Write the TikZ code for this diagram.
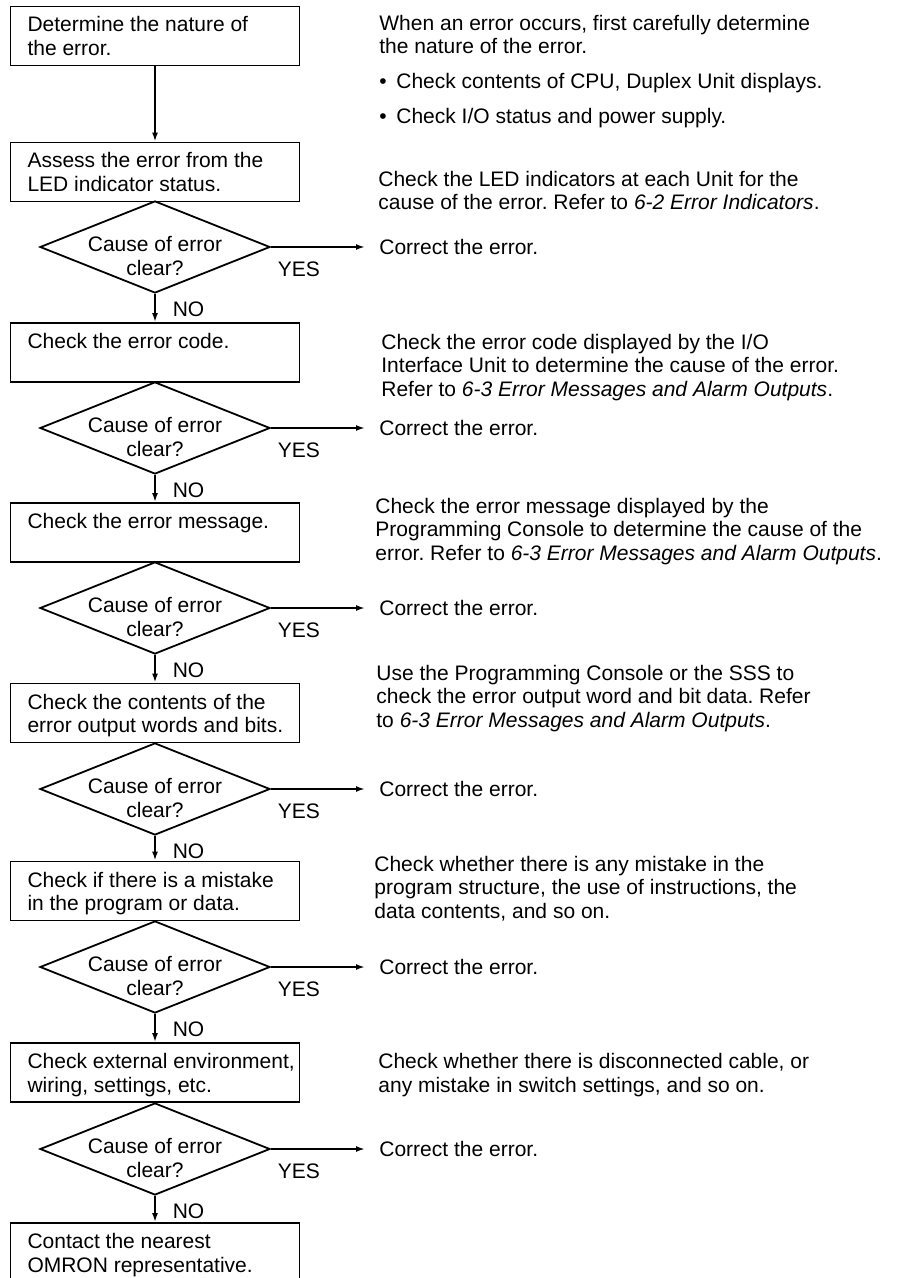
\documentclass[tikz,border=0pt]{standalone}
\usepackage{fontspec}
\setmainfont{Liberation Sans}
\usetikzlibrary{shapes.geometric, arrows.meta}
\frenchspacing

\begin{document}
\begin{tikzpicture}[x=0.5pt, y=-0.5pt,
        font=\fontsize{10.5pt}{11.75pt}\selectfont,
        proc/.style={rectangle, draw, line width=0.9pt, minimum width=144.5pt, minimum height=29.5pt, text width=127.5pt, inner xsep=8.5pt, inner ysep=0pt, text height=9pt, text depth=13pt, align=flush left},
        dec/.style={diamond, draw, line width=0.9pt, minimum width=115pt, minimum height=46pt, inner sep=0pt},
        dtext/.style={align=center, yshift=-4.5pt},
        note/.style={anchor=base west, inner sep=0pt, align=left},
        fix/.style={anchor=west, inner xsep=7pt},
        lbl/.style={inner sep=0pt},
        flow/.style={line width=0.9pt, -{Latex[length=4.5pt, width=3pt]}}]

        \useasboundingbox (0,0) rectangle (899,1278);

        % Flow: boxes and checks
        \node[proc] (b1) at (155,36) {Determine the nature of\\the error.};
        \node[proc] (b2) at (155,172) {Assess the error from the\\LED indicator status.};
        \node[dec, label={[dtext]center:Cause of error\\clear?}] (d1) at (155,247) {};
        \node[proc] (b3) at (155,352.5) {Check the error code.};
        \node[dec, label={[dtext]center:Cause of error\\clear?}] (d2) at (155,428) {};
        \node[proc] (b4) at (155,532.5) {Check the error message.};
        \node[dec, label={[dtext]center:Cause of error\\clear?}] (d3) at (155,608) {};
        \node[proc] (b5) at (155,713) {Check the contents of the\\\mbox{error output words and bits.}};
        \node[dec, label={[dtext]center:Cause of error\\clear?}] (d4) at (155,789) {};
        \node[proc] (b6) at (155,891) {Check if there is a mistake\\in the program or data.};
        \node[dec, label={[dtext]center:Cause of error\\clear?}] (d5) at (155,967) {};
        \node[proc] (b7) at (155,1072.5) {\mbox{Check external environment,}\\wiring, settings, etc.};
        \node[dec, label={[dtext]center:Cause of error\\clear?}] (d6) at (155,1149) {};
        \node[proc] (b8) at (155,1252.5) {Contact the nearest\\OMRON representative.};

        % Correct the error
        \node[fix] (c1) at (365,247) {Correct the error.};
        \node[fix] (c2) at (365,428) {Correct the error.};
        \node[fix] (c3) at (365,608) {Correct the error.};
        \node[fix] (c4) at (365,789) {Correct the error.};
        \node[fix] (c5) at (365,967) {Correct the error.};
        \node[fix] (c6) at (365,1149) {Correct the error.};

        % Notes (placed at the baseline of their last line)
        \node[note] (t1) at (379,124) {When an error occurs, first carefully determine\\the nature of the error.\\[5.75pt]\makebox[8.5pt][l]{\textbullet}Check contents of CPU, Duplex Unit displays.\\[5.75pt]\makebox[8.5pt][l]{\textbullet}Check I/O status and power supply.};
        \node[note] (t2) at (378,210) {Check the LED indicators at each Unit for the\\cause of the error. Refer to \textit{6-2 Error Indicators}.};
        \node[note] (t3) at (381,396) {Check the error code displayed by the I/O\\Interface Unit to determine the cause of the error.\\Refer to \textit{6-3 Error Messages and Alarm Outputs}.};
        \node[note] (t4) at (375,560) {Check the error message displayed by the\\Programming Console to determine the cause of the\\error. Refer to \textit{6-3 Error Messages and Alarm Outputs}.};
        \node[note] (t5) at (376,727) {Use the Programming Console or the SSS to\\check the error output word and bit data. Refer\\to \textit{6-3 Error Messages and Alarm Outputs}.};
        \node[note] (t6) at (374,918) {Check whether there is any mistake in the\\program structure, the use of instructions, the\\data contents, and so on.};
        \node[note] (t7) at (378,1092) {Check whether there is disconnected cable, or\\any mistake in switch settings, and so on.};

        % Connections
        \draw[flow] (b1.south) -- (b2.north);
        \draw[flow] (d1.south) -- (b3.north);
        \draw[flow] (d2.south) -- (b4.north);
        \draw[flow] (d3.south) -- (b5.north);
        \draw[flow] (d4.south) -- (b6.north);
        \draw[flow] (d5.south) -- (b7.north);
        \draw[flow] (d6.south) -- (b8.north);
        \draw[flow] (d1.east) -- (c1.west);
        \draw[flow] (d2.east) -- (c2.west);
        \draw[flow] (d3.east) -- (c3.west);
        \draw[flow] (d4.east) -- (c4.west);
        \draw[flow] (d5.east) -- (c5.west);
        \draw[flow] (d6.east) -- (c6.west);

        % YES / NO
        \node[lbl] (y1) at ([shift={(14pt,-11.25pt)}]d1.east) {YES};
        \node[lbl] (y2) at ([shift={(14pt,-11.25pt)}]d2.east) {YES};
        \node[lbl] (y3) at ([shift={(14pt,-11.25pt)}]d3.east) {YES};
        \node[lbl] (y4) at ([shift={(14pt,-11.25pt)}]d4.east) {YES};
        \node[lbl] (y5) at ([shift={(14pt,-11.25pt)}]d5.east) {YES};
        \node[lbl] (y6) at ([shift={(14pt,-11.25pt)}]d6.east) {YES};
        \node[lbl] (n1) at ([shift={(16.75pt,-7.5pt)}]d1.south) {NO};
        \node[lbl] (n2) at ([shift={(16.75pt,-7.5pt)}]d2.south) {NO};
        \node[lbl] (n3) at ([shift={(16.75pt,-7.5pt)}]d3.south) {NO};
        \node[lbl] (n4) at ([shift={(16.75pt,-7.5pt)}]d4.south) {NO};
        \node[lbl] (n5) at ([shift={(16.75pt,-7.5pt)}]d5.south) {NO};
        \node[lbl] (n6) at ([shift={(16.75pt,-7.5pt)}]d6.south) {NO};
    \end{tikzpicture}
\end{document}
